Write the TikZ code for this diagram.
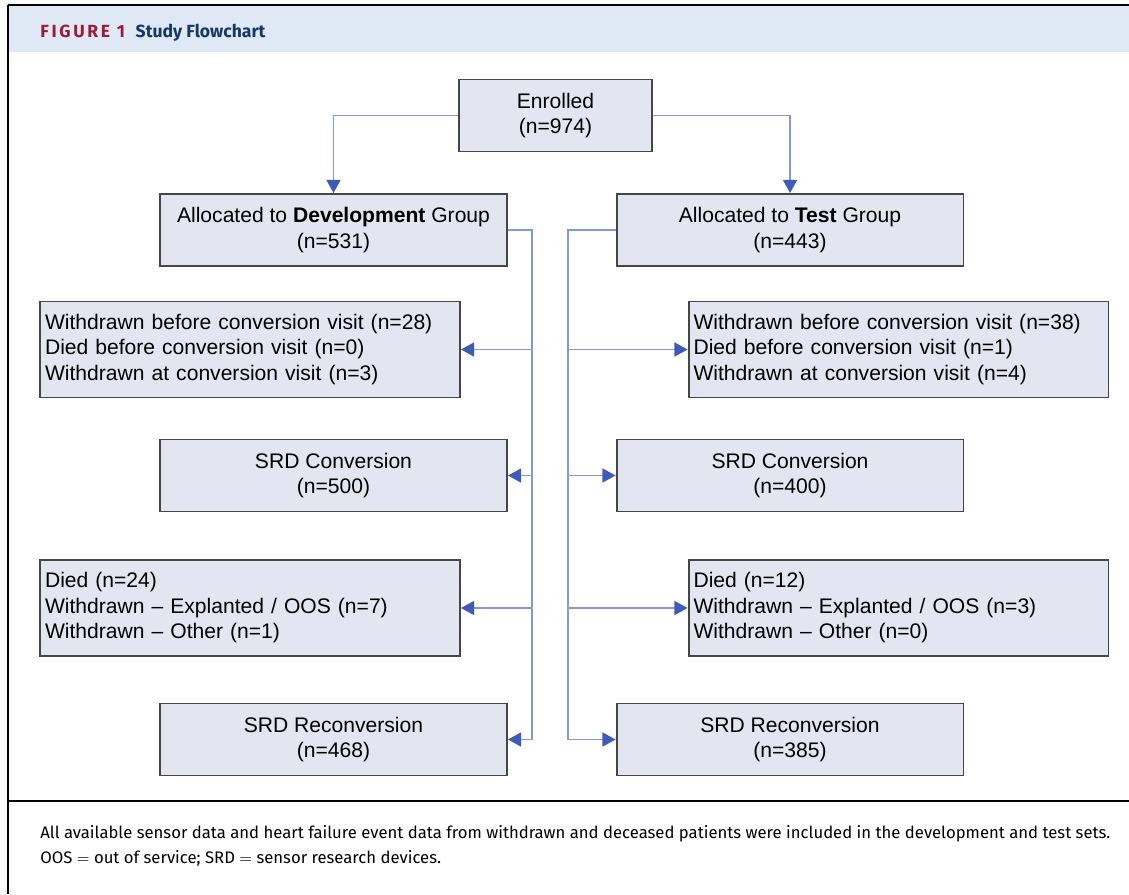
\documentclass[tikz,border=0pt]{standalone}
\usepackage{fontspec}
\setmainfont{Liberation Sans}
\newfontfamily\capfont{Fira Sans}
\usetikzlibrary{arrows.meta,positioning}

\definecolor{boxfill}{RGB}{227,230,240}
\definecolor{boxgray}{RGB}{70,70,70}
\definecolor{headfill}{RGB}{222,233,245}
\definecolor{linkblue}{RGB}{130,152,218}
\definecolor{arrowblue}{RGB}{63,91,184}
\definecolor{figred}{RGB}{158,27,50}
\definecolor{navy}{RGB}{23,55,100}

\tikzset{
    box/.style={draw=boxgray, fill=boxfill, line width=1.1pt, minimum width=6.94cm, minimum height=1.44cm,
        align=center, font=\fontsize{12}{14.5}\selectfont},
    listbox/.style={box, minimum width=8.4cm, minimum height=1.92cm, text width=8.2cm, align=left, inner xsep=0.1cm},
    link/.style={draw=linkblue, line width=0.85pt},
    arr/.style={link, -{Triangle[length=7.5pt,width=8pt,color=arrowblue]}}
}

\begin{document}
\begin{tikzpicture}[x=0.02cm, y=-0.02cm]
    \useasboundingbox (0,0) rectangle (1129,894);

    % frame and header
    \fill[headfill] (9,6) rectangle (1129,52);
    \draw[line width=1.2pt] (8,5) -- (1129,5);
    \draw[line width=0.9pt] (8,5) -- (8,894);
    \draw[line width=0.9pt] (8,801) -- (1129,801);
    \node[anchor=base west, inner sep=0] (fig) at (40,37)
        {\capfont\addfontfeature{LetterSpace=15}\fontsize{10}{11}\selectfont\bfseries\color{figred}FIGURE 1};
    \node[anchor=base west, inner sep=0] (title) at ([xshift=0.2cm]fig.base east)
        {\capfont\fontsize{10}{12}\selectfont\bfseries\color{navy}Study Flowchart};

    % boxes
    \node[box, minimum width=3.86cm] (enr) at (555.5,115.5) {Enrolled\\(n=974)};
    \node[box] (dev) at (333.5,230) {Allocated to \textbf{Development} Group\\(n=531)};
    \node[box] (test) at (790,230) {Allocated to \textbf{Test} Group\\(n=443)};

    \node[listbox] (wdl) at (250,349.5) {Withdrawn before conversion visit (n=28)\\Died before conversion visit (n=0)\\Withdrawn at conversion visit (n=3)};
    \node[listbox] (wdr) at (898.5,349.5) {Withdrawn before conversion visit (n=38)\\Died before conversion visit (n=1)\\Withdrawn at conversion visit (n=4)};

    \node[box] (convl) at (333.5,475.5) {SRD Conversion\\(n=500)};
    \node[box] (convr) at (790,475.5) {SRD Conversion\\(n=400)};

    \node[listbox] (diedl) at (250,608) {Died (n=24)\\Withdrawn -- Explanted / OOS (n=7)\\Withdrawn -- Other (n=1)};
    \node[listbox] (diedr) at (898.5,608) {Died (n=12)\\Withdrawn -- Explanted / OOS (n=3)\\Withdrawn -- Other (n=0)};

    \node[box] (recl) at (333.5,739.5) {SRD Reconversion\\(n=468)};
    \node[box] (recr) at (790,739.5) {SRD Reconversion\\(n=385)};

    % connectors
    \draw[arr] (enr.west) -| (dev.north);
    \draw[arr] (enr.east) -| (test.north);

    \coordinate (lbus) at (532,0);
    \coordinate (rbus) at (568,0);
    \draw[link] (dev.east) -- (dev.east -| lbus) -- (recl.east -| lbus);
    \draw[link] (test.west) -- (test.west -| rbus) -- (recr.west -| rbus);

    \foreach \n in {wdl,convl,diedl,recl}
        \draw[arr] (\n.east -| lbus) -- (\n.east);
    \foreach \n in {wdr,convr,diedr,recr}
        \draw[arr] (\n.west -| rbus) -- (\n.west);

    % caption
    \node[anchor=base west, inner sep=0] (cap1) at (40,838)
        {\capfont\fontsize{9.5}{12}\selectfont All available sensor data and heart failure event data from withdrawn and deceased patients were included in the development and test sets.};
    \node[anchor=base west, inner sep=0] (cap2) at (40,863)
        {\capfont\fontsize{9.5}{12}\selectfont OOS $=$ out of service; SRD $=$ sensor research devices.};
\end{tikzpicture}
\end{document}
